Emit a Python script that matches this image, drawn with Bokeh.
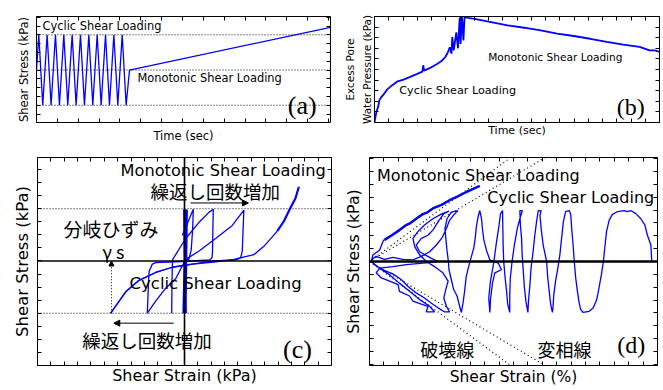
from bokeh.plotting import figure
from bokeh.models import Range1d, LinearAxis, FixedTicker, Label, Span, Arrow, NormalHead
from bokeh.layouts import column, row
from bokeh.embed import file_html
from bokeh.resources import INLINE

BLUE = "#0000ff"
LAT = "DejaVu Sans"
JP = "Noto Sans CJK JP"
SERIF = "Liberation Serif"

# ---------------- data ----------------
# (a) stress-time history: turning points of cyclic loading, then monotonic ramp
a_time = [0, 1.1, 3.0, 5.1, 7.0, 9.1, 11.0, 13.1, 15.0, 17.1, 19.0, 21.1, 23.0,
          25.1, 27.0, 29.1, 31.0, 33.1, 35.0, 37.1, 39.0, 41.1, 43.0, 44.6, 141.0]
a_stress = [0, 1, -1, 1, -1, 1, -1, 1, -1, 1, -1, 1, -1,
            1, -1, 1, -1, 1, -1, 1, -1, 1, -1, 0, 1.21]

# (b) excess pore water pressure vs time
b_time = [0, 0.35, 0.7, 1.3, 1.7, 2.4, 3.2, 4.4, 6.1, 7.9, 10.2, 12.5, 14.8, 16.8,
          17.1, 17.4, 19.5, 21.8, 23.5, 24.9, 25.8, 26.4, 27.0, 27.3, 27.8, 28.7,
          29.3, 29.9, 30.2, 30.7, 31.2, 31.6, 32.8, 35.1, 40.9, 46.7, 52.5, 58.3,
          64.1, 69.9, 75.7, 81.5, 87.3, 93.0, 96.5, 98.3, 100]
b_pwp = [0, 5.6, 10.3, 15, 21, 24, 26.5, 31, 35, 38.5, 40.5, 43, 45.6, 48,
         54, 49, 51.5, 55, 58, 62, 66.5, 71, 65, 80.6, 68, 85,
         70, 99, 74, 100, 77.5, 99.4, 98.8, 97.8, 94.7, 91.6, 89.4, 86.9,
         83.8, 81.6, 79, 76, 73.4, 71.3, 68, 68, 66.6]

# (c) stress-strain loops (strain, stress)
c_band = [(0.1, -1.0), (1.0, 0.99), (-0.6, -1.0), (1.5, 0.975), (0.6, -1.0),
          (-0.1, 0.99), (0.8, -1.0)]
c_loop1 = [(-1.5, 0.49), (1.9, 0.71), (4.6, 0.90), (6.0, 0.99), (5.5, 0.59),
           (4.6, 0.22), (3.1, 0.04), (1.0, 0.0)]
c_loop2 = [(-8.7, -1.0), (-8.5, -0.40), (-8.3, -0.10), (-8.0, 0.03), (0.8, 0.43),
           (9.9, 0.74), (16.6, 0.93), (19.6, 0.99), (19.3, 0.60), (19.1, 0.20),
           (18.7, 0.06), (17.0, 0.02), (5.0, 0.0), (-10.0, -0.02), (-19.6, -0.03),
           (-21.9, -0.06), (-24.1, -0.20), (-24.6, -0.50), (-25.3, -1.0)]
c_loop3 = [(-25.3, -1.0), (-19.6, -0.77), (-12.8, -0.52), (-6.0, -0.34), (0.8, 0.03),
           (9.9, 0.19), (21.2, 0.43), (32.5, 0.68), (40.4, 0.975), (39.8, 0.56),
           (39.3, 0.19), (38.2, 0.06), (34.8, 0.02), (20.0, 0.0), (5.3, -0.06),
           (-8.3, -0.12), (-19.6, -0.22), (-30.9, -0.37), (-40.0, -0.59), (-50.2, -1.0)]
c_mono = [(-50.2, -1.0), (-40.0, -0.59), (-30.9, -0.37), (-19.6, -0.22), (-8.3, -0.12),
          (5.3, -0.06), (20.0, -0.02), (33.6, 0.03), (47.2, 0.12), (54.0, 0.28),
          (59.7, 0.46), (63.1, 0.57)]
c_mono_end = [(63.1, 0.57), (67.6, 0.76), (72.1, 1.02), (75.5, 1.20), (77.8, 1.42)]

# (d) cyclic path (strain axis, stress)
d_right = [(98.0, 0), (97.7, 0.32), (96.5, 0.51), (95.6, 0.71), (94.2, 0.83), (92.5, 0.93),
           (90.7, 0.99), (89.5, 0.97), (88.4, 0.99), (86.1, 0.97), (84.3, 0.91), (83.2, 0.80),
           (82.3, 0.58), (81.8, 0.32), (81.2, 0), (80.5, -0.26), (79.7, -0.51), (78.9, -0.74),
           (77.7, -0.90), (76.2, -0.97), (74.2, -0.99), (73.3, -0.93), (72.7, -0.77),
           (72.2, -0.58), (71.6, -0.32), (71.1, 0), (70.7, 0.32), (70.2, 0.64), (69.9, 0.90),
           (69.4, 0.99), (68.1, 0.97), (67.3, 0.77), (66.7, 0.45), (66.1, 0.13), (65.4, -0.13),
           (64.6, -0.38), (64.0, -0.64), (63.7, -0.90), (63.5, -0.99), (62.9, -0.83),
           (62.4, -0.58), (61.9, -0.32), (61.5, 0), (60.3, 0.32), (59.6, 0.64), (59.2, 0.90),
           (59.6, 0.99), (58.6, 0.99), (58.0, 0.77), (57.4, 0.51), (56.8, 0.19), (56.1, -0.13),
           (55.7, -0.45), (55.2, -0.77), (55.0, -0.99), (54.3, -0.77), (53.8, -0.51),
           (53.4, -0.19), (53.0, 0.13), (52.8, 0.45), (52.4, 0.71), (52.2, 0.99), (53.1, 0.99),
           (52.4, 0.87), (51.3, 0.64), (50.3, 0.32), (49.5, 0), (48.9, -0.32), (48.7, -0.64),
           (48.7, -0.99), (48.0, -0.83), (47.6, -0.58), (47.1, -0.32), (46.6, 0), (46.4, 0.32),
           (46.3, 0.64), (46.2, 0.99), (45.5, 0.93), (45.0, 0.71), (44.1, 0.38), (43.2, 0),
           (42.0, -0.38), (41.4, -0.71), (41.8, -0.99), (42.0, -0.74), (42.7, -0.42),
           (43.5, -0.22), (45.8, -0.16), (44.7, -0.03), (41.8, 0.03), (40.6, 0.22), (39.7, 0.42),
           (39.2, 0.64), (38.9, 0.83), (38.3, 0.99), (37.7, 0.87), (37.1, 0.67), (36.7, 0.45),
           (36.2, 0.26), (35.4, 0.10), (34.6, -0.06), (33.6, -0.29), (33.1, -0.54),
           (32.5, -0.80), (31.9, -0.99)]
d_left = [(31.3, -0.87), (30.4, -0.67), (29.2, -0.54), (28.4, -0.35), (27.6, -0.16), (27.4, 0.0),
          (26.9, 0.22), (26.5, 0.45), (26.2, 0.64), (26.9, 0.83), (28.4, 0.96), (30.7, 0.99),
          (29.2, 0.90), (27.8, 0.80), (26.7, 0.64), (25.3, 0.47), (23.2, 0.32), (20.9, 0.19),
          (18.0, 0.10), (15.1, 0.03), (11.6, 0.04), (8.1, 0.08), (5.2, 0.04), (2.3, 0.10),
          (0.6, 0.03), (1.7, -0.06), (4.6, -0.16), (8.1, -0.24), (11.0, -0.35), (13.3, -0.48),
          (16.2, -0.61), (19.1, -0.71), (21.5, -0.81), (23.8, -0.90), (26.1, -0.98), (27.8, -0.98),
          (26.7, -0.87), (25.8, -0.71), (26.5, -0.54), (27.3, -0.38), (25.5, -0.22), (22.6, -0.10),
          (19.7, 0.0), (17.4, 0.13), (15.7, 0.29), (15.1, 0.45), (16.8, 0.58), (19.1, 0.71),
          (22.0, 0.83), (24.9, 0.92), (27.6, 0.98), (25.8, 0.93), (23.8, 0.77), (22.0, 0.61),
          (20.3, 0.51), (18.0, 0.45), (16.2, 0.32), (17.4, 0.19), (21.5, 0.06), (23.8, 0.0),
          (18.6, -0.03), (12.8, -0.06), (8.1, -0.10), (3.5, -0.13), (2.3, -0.22), (4.1, -0.32),
          (7.0, -0.38), (9.9, -0.45), (10.4, -0.58), (13.9, -0.67), (15.1, -0.77), (18.0, -0.83),
          (20.3, -0.87), (19.7, -0.98), (22.6, -0.98), (20.9, -0.87), (17.4, -0.74), (13.9, -0.58),
          (10.4, -0.42), (7.0, -0.26), (3.5, -0.13), (0.6, 0.0), (1.2, 0.13), (3.5, 0.22),
          (4.6, 0.38), (5.2, 0.43)]
d_mono = [(5.2, 0.42), (7.5, 0.50), (10.4, 0.61), (12.5, 0.70), (14.0, 0.74), (16.2, 0.83),
          (18.5, 0.92), (20.0, 0.95), (22.0, 1.03), (25.0, 1.10), (27.8, 1.19), (30.5, 1.26),
          (33.6, 1.35), (36.0, 1.41), (38.3, 1.47)]
d_fail_x = [49.0, 0.0, 49.0]
d_fail_y = [2.02, 0.0, -2.02]
d_phase_x = [61.0, 0.0, 61.0]
d_phase_y = [2.02, 0.0, -2.02]

# tick positions (unlabelled, drawn inward)
a_xticks = list(range(0, 141, 10))
a_yticks = [k * 0.25 for k in range(-6, 7)]
b_xticks = list(range(0, 101, 5))
b_yticks = list(range(0, 101, 10))
c_xticks = [k * 100 / 11 for k in range(-11, 12)]
c_yticks = [k * 0.25 for k in range(-8, 9)]
d_xticks = list(range(0, 101, 5))
d_yticks = [k * 0.25 for k in range(-8, 9)]


def xs(pts):
    return [p[0] for p in pts]


def ys(pts):
    return [p[1] for p in pts]


def make_fig(w, h, xr, yr, bl, br, bt, bb, xticks, yticks):
    p = figure(width=w, height=h, x_range=Range1d(*xr), y_range=Range1d(*yr),
               output_backend="svg", toolbar_location=None, title=None,
               min_border_left=bl, min_border_right=br, min_border_top=bt,
               min_border_bottom=bb)
    p.add_layout(LinearAxis(), "above")
    p.add_layout(LinearAxis(), "right")
    for ax in p.below + p.above:
        ax.ticker = FixedTicker(ticks=[], minor_ticks=xticks)
    for ax in p.left + p.right:
        ax.ticker = FixedTicker(ticks=[], minor_ticks=yticks)
    for ax in p.below + p.above + p.left + p.right:
        ax.minor_tick_in = 4
        ax.minor_tick_out = 0
        ax.minor_tick_line_color = "black"
        ax.major_tick_in = 0
        ax.major_tick_out = 0
        ax.major_label_standoff = 0
        ax.axis_line_color = None
    p.grid.visible = False
    p.outline_line_color = "black"
    p.outline_line_width = 1
    p.background_fill_color = "white"
    p.border_fill_color = "white"
    return p


def set_labels(p, xl, yl, xsize, ysize, xstand, ystand):
    bx = p.below[0]
    ly = p.left[0]
    bx.axis_label = xl
    ly.axis_label = yl
    for ax, sz, st in ((bx, xsize, xstand), (ly, ysize, ystand)):
        ax.axis_label_text_font = LAT
        ax.axis_label_text_font_style = "normal"
        ax.axis_label_text_font_size = sz
        ax.axis_label_standoff = st
        ax.axis_label_text_color = "black"


def lab(p, x, y, text, font, size, align="left"):
    p.add_layout(Label(x=x, y=y, text=text, text_font=font, text_font_size=size,
                       text_align=align, text_baseline="middle", text_color="black"))


# ---------------- (a) ----------------
pa = make_fig(340, 145, (0, 141), (-1.49, 1.52), 36, 10, 15, 23, a_xticks, a_yticks)
set_labels(pa, "Time (sec)", "Shear Stress (kPa)", "11.5px", "11.5px", 6, 6)
for lv in (1, 0, -1):
    pa.add_layout(Span(location=lv, dimension="width", line_color="black",
                       line_dash="1 2", line_width=1))
pa.line(a_time, a_stress, line_color=BLUE, line_width=1.3)
lab(pa, 2.9, 1.24, "Cyclic Shear Loading", LAT, "11.4px")
lab(pa, 48.4, -0.23, "Monotonic Shear Loading", LAT, "11.4px")
lab(pa, 120.5, -1.0, "(a)", SERIF, "26px")

# ---------------- (b) ----------------
pb = make_fig(321, 145, (0, 100), (0, 100), 32, 2, 16, 22, b_xticks, b_yticks)
set_labels(pb, "Time (sec)", "Excess Pore\nWater Pressure (kPa)", "11px", "10.5px", 1, 2)
pb.left[0].axis_label_text_line_height = 1.4
pb.line(b_time, b_pwp, line_color=BLUE, line_width=1.8)
lab(pb, 39.9, 61.7, "Monotonic Shear Loading", LAT, "10.6px")
lab(pb, 8.7, 29.9, "Cyclic Shear Loading", LAT, "11.2px")
lab(pb, 85.0, 15.0, "(b)", SERIF, "24px")

# ---------------- (c) ----------------
pc = make_fig(340, 243, (-100, 100), (-2.0, 1.98), 37, 9, 12, 19, c_xticks, c_yticks)
set_labels(pc, "Shear Strain (kPa)", "Shear Stress (kPa)", "16px", "16.5px", 0, 6)
for lv in (1, -1):
    pc.add_layout(Span(location=lv, dimension="width", line_color="black",
                       line_dash="1 2", line_width=1))
pc.add_layout(Span(location=0, dimension="width", line_color="black", line_width=1.6))
pc.add_layout(Span(location=0, dimension="height", line_color="black", line_width=1.6))
pc.line(xs(c_band), ys(c_band), line_color=BLUE, line_width=2.5)
for seg in (c_loop1, c_loop2, c_loop3, c_mono):
    pc.line(xs(seg), ys(seg), line_color=BLUE, line_width=1.3)
pc.line(xs(c_mono_end), ys(c_mono_end), line_color=BLUE, line_width=2.2)
pc.add_layout(Arrow(x_start=-49.7, y_start=-1.0, x_end=-49.7, y_end=0.0,
                    line_color="black", line_width=1, line_dash="1 2",
                    end=NormalHead(size=5, fill_color="black", line_color="black")))
pc.add_layout(Arrow(x_start=4.1, y_start=1.11, x_end=43.5, y_end=1.11,
                    line_color="black", line_width=1,
                    end=NormalHead(size=6, fill_color="black", line_color="black")))
pc.add_layout(Arrow(x_start=-7.3, y_start=-1.19, x_end=-48.1, y_end=-1.19,
                    line_color="black", line_width=1,
                    end=NormalHead(size=6, fill_color="black", line_color="black")))
lab(pc, -43.5, 1.73, "Monotonic Shear Loading", LAT, "16.2px")
lab(pc, -23.1, 1.33, "繰返し回数増加", JP, "18.5px")
lab(pc, -82.3, 0.62, "分岐ひずみ", JP, "19px")
lab(pc, -56.0, 0.19, "γ s", JP, "18px")
lab(pc, -37.4, -0.43, "Cyclic Shear Loading", LAT, "16.5px")
lab(pc, -69.6, -1.51, "繰返し回数増加", JP, "18.5px")
lab(pc, 67.0, -1.70, "(c)", SERIF, "26px")

# ---------------- (d) ----------------
pd = make_fig(321, 243, (0, 100), (-2.02, 2.02), 29, 4, 12, 21, d_xticks, d_yticks)
set_labels(pd, "Shear Strain (%)", "Shear Stress (kPa)", "15.5px", "15.8px", 2, 7)
pd.add_layout(Span(location=0, dimension="width", line_color="black", line_width=2.5))
pd.line(d_fail_x, d_fail_y, line_color="black", line_dash="1 3", line_width=1.2)
pd.line(d_phase_x, d_phase_y, line_color="black", line_dash="1 3", line_width=1.2)
pd.line(xs(d_right) + xs(d_left), ys(d_right) + ys(d_left), line_color=BLUE, line_width=1.3)
pd.line(xs(d_mono), ys(d_mono), line_color=BLUE, line_width=2.5)
lab(pd, 2.6, 1.68, "Monotonic Shear Loading", LAT, "16px")
lab(pd, 40.9, 1.24, "Cyclic Shear Loading", LAT, "16px")
lab(pd, 17.6, -1.70, "破壊線", JP, "18px")
lab(pd, 58.3, -1.70, "変相線", JP, "18px")
lab(pd, 86.0, -1.63, "(d)", SERIF, "24px")

layout = column(row(pa, pb), row(pc, pd))
open("out.html", "w").write(file_html(layout, INLINE))
